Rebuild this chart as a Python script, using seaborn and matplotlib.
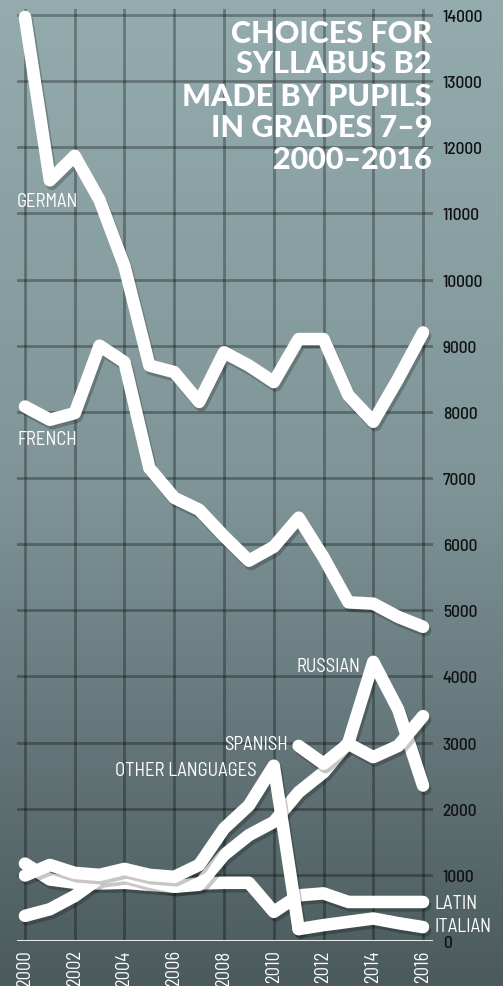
import numpy as np
import pandas as pd
import matplotlib.pyplot as plt
import matplotlib.patheffects as pe
from matplotlib.colors import LinearSegmentedColormap
import seaborn as sns

# =========================
# Data
# =========================
years = list(range(2000, 2017))

german = [13970, 11500, 11870, 11200, 10200, 8700, 8600, 8150, 8900,
          8700, 8450, 9100, 9100, 8250, 7850, 8500, 9200]
french = [8080, 7880, 7980, 9000, 8750, 7150, 6700, 6520, 6120,
          5750, 5960, 6400, 5800, 5120, 5100, 4900, 4750]
russian = [380, 480, 680, 950, 1000, 900, 820, 850, 1300,
           1600, 1800, 2250, 2550, 3000, 4220, 3500, 2350]
latin = [1170, 930, 880, 870, 880, 850, 820, 870, 880,
         880, 440, 690, 720, 590, 590, 590, 590]

# other languages run until 2011, where the italian series starts
other_years = list(range(2000, 2012))
other_langs = [990, 1150, 1030, 1000, 1090, 1000, 970, 1150, 1700,
               2050, 2650, 180]

late_years = list(range(2011, 2017))
italian = [180, 240, 290, 340, 270, 210]
spanish = [2950, 2680, 2980, 2780, 2950, 3400]

y_ticks = list(range(0, 15000, 1000))
x_ticks = list(range(2000, 2017, 2))

title_lines = ["CHOICES FOR", "SYLLABUS B2", "MADE BY PUPILS",
               "IN GRADES 7–9", "2000–2016"]

# =========================
# Style
# =========================
sns.set_style("white")
narrow = ["Barlow Semi Condensed", "Barlow Condensed", "DejaVu Sans"]
heavy = ["Lato", "DejaVu Sans"]
plt.rcParams["font.family"] = narrow

W, H = 503, 987
fig = plt.figure(figsize=(W / 100, H / 100), dpi=100)

# background gradient
bg = fig.add_axes([0, 0, 1, 1], zorder=-10)
cmap = LinearSegmentedColormap.from_list(
    "bg", [(0.0, "#4a5a5d"), (0.24, "#637578"), (0.5, "#7e9497"), (1.0, "#95acae")]
)
bg.imshow(np.linspace(0, 1, 256).reshape(-1, 1)[::-1], aspect="auto",
          cmap=cmap, extent=[0, 1, 0, 1])
bg.axis("off")

ax = fig.add_axes([17 / W, 45 / H, 416 / W, 932 / H])
ax.set_facecolor("none")

line_kw = dict(
    color="white", linewidth=9,
    solid_capstyle="round", solid_joinstyle="round",
    path_effects=[
        pe.SimpleLineShadow(offset=(1.5, -2.5), shadow_color="black", alpha=0.22),
        pe.Normal(),
    ],
)

sns.lineplot(x=years, y=latin, ax=ax, **line_kw)
sns.lineplot(x=years, y=russian, ax=ax, **line_kw)
sns.lineplot(x=late_years, y=spanish, ax=ax, **line_kw)
sns.lineplot(x=other_years, y=other_langs, ax=ax, **line_kw)
sns.lineplot(x=late_years, y=italian, ax=ax, **line_kw)
sns.lineplot(x=years, y=french, ax=ax, **line_kw)
sns.lineplot(x=years, y=german, ax=ax, **line_kw)

ax.axhline(0, color="white", linewidth=2, zorder=1)

ax.set_xlim(1999.68, 2016.4)
ax.set_ylim(0, 14090)
ax.set_xticks(x_ticks)
ax.set_xticklabels([str(y) for y in x_ticks])
ax.set_yticks(y_ticks)
ax.set_yticklabels([str(v) for v in y_ticks])
ax.yaxis.tick_right()
ax.tick_params(axis="y", length=0, pad=7, labelsize=12.5, labelcolor="#111111")
ax.tick_params(axis="x", length=0, pad=6, labelsize=13.5, labelcolor="white",
               labelrotation=90)
for t in ax.get_yticklabels():
    t.set_fontweight(500)
ax.set_xlabel("")
ax.set_ylabel("")
for s in ax.spines.values():
    s.set_visible(False)
ax.grid(True, color="black", alpha=0.3, linewidth=2)
ax.set_axisbelow(True)

# =========================
# Series labels
# =========================
lab = dict(color="white", fontsize=13.5, va="center", family=narrow)
ax.text(1999.68, 11190, "GERMAN", ha="left", **lab)
ax.text(1999.68, 7590, "FRENCH", ha="left", **lab)
ax.text(2013.47, 4160, "RUSSIAN", ha="right", **lab)
ax.text(2010.57, 2980, "SPANISH", ha="right", **lab)
ax.text(2009.33, 2585, "OTHER LANGUAGES", ha="right", **lab)
ax.text(2016.48, 575, "LATIN", ha="left", clip_on=False, **lab)
ax.text(2016.48, 227, "ITALIAN", ha="left", clip_on=False, **lab)

# =========================
# Title
# =========================
baselines = [43, 73, 106, 137, 169]
for line, b in zip(title_lines, baselines):
    fig.text(432 / W, 1 - b / H, line, ha="right", va="baseline",
             color="white", fontsize=22, fontweight="black", family=heavy)

fig.savefig("out.png", dpi=100)
